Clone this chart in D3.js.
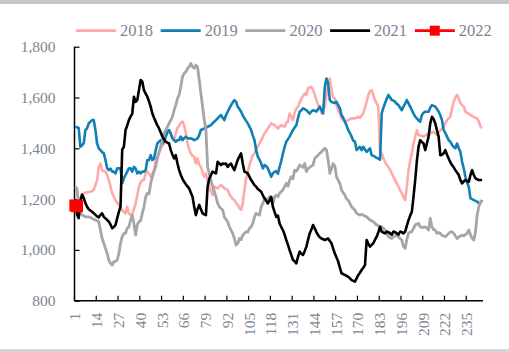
<!DOCTYPE html>
<html>
<head>
<meta charset="utf-8">
<script src="https://cdn.jsdelivr.net/npm/d3@7/dist/d3.min.js"></script>
<style>
    html, body { margin: 0; padding: 0; background: #fff; }
</style>
</head>
<body>
<div id="chart"></div>
<script>
(function () {
    'use strict';

    // categories 1..244 (trading days)
    var cats = d3.range(1, 245);

    var yTicks = [800, 1000, 1200, 1400, 1600, 1800];

    var seriesNames = ['2018', '2019', '2020', '2021', '2022'];

    var s2018 = [
        1185, 1190, 1200, 1205, 1215, 1222, 1226, 1226, 1228, 1229, 1232, 1236, 1255,
        1275, 1327, 1340, 1314, 1310, 1308, 1295, 1275, 1249, 1223, 1210, 1196, 1185,
        1177, 1165, 1157, 1150, 1144, 1170, 1144, 1137, 1140, 1160, 1183, 1216, 1249,
        1265, 1275, 1275, 1301, 1308, 1300, 1288, 1300, 1314, 1354, 1370, 1380, 1400,
        1410, 1419, 1446, 1460, 1465, 1455, 1440, 1432, 1459, 1480, 1490, 1500, 1505,
        1490, 1459, 1419, 1395, 1380, 1370, 1367, 1340, 1360, 1335, 1327, 1305, 1288,
        1300, 1270, 1249, 1230, 1216, 1249, 1245, 1242, 1250, 1255, 1250, 1242, 1240,
        1236, 1220, 1209, 1200, 1196, 1185, 1177, 1165, 1157, 1183, 1236, 1280, 1308,
        1334, 1355, 1373, 1380, 1395, 1406, 1420, 1432, 1445, 1459, 1468, 1478, 1488,
        1498, 1495, 1491, 1485, 1478, 1485, 1491, 1488, 1485, 1500, 1505, 1537, 1525,
        1511, 1540, 1557, 1564, 1580, 1596, 1605, 1616, 1610, 1636, 1640, 1642, 1630,
        1610, 1590, 1570, 1564, 1537, 1550, 1564, 1610, 1655, 1675, 1629, 1600, 1596,
        1570, 1550, 1537, 1518, 1512, 1505, 1508, 1511, 1515, 1518, 1518, 1518, 1520,
        1524, 1520, 1530, 1537, 1560, 1583, 1610, 1625, 1629, 1610, 1590, 1577, 1564,
        1390, 1380, 1360, 1347, 1335, 1327, 1315, 1301, 1288, 1275, 1262, 1249, 1235,
        1223, 1209, 1196, 1249, 1314, 1350, 1380, 1419, 1446, 1472, 1452, 1450, 1448,
        1446, 1450, 1455, 1457, 1459, 1462, 1465, 1458, 1452, 1462, 1472, 1478, 1485,
        1498, 1511, 1518, 1524, 1557, 1583, 1600, 1610, 1596, 1577, 1570, 1564, 1544,
        1540, 1537, 1531, 1528, 1524, 1520, 1518, 1505, 1485, 1480
    ];

    var s2019 = [
        1485, 1483, 1480, 1406, 1412, 1419, 1472, 1478, 1498, 1505, 1511, 1511, 1472,
        1419, 1400, 1393, 1385, 1380, 1354, 1321, 1314, 1320, 1308, 1308, 1301, 1321,
        1321, 1321, 1262, 1282, 1295, 1308, 1321, 1321, 1308, 1327, 1321, 1301, 1308,
        1301, 1308, 1308, 1314, 1354, 1354, 1373, 1354, 1360, 1393, 1419, 1426, 1432,
        1419, 1426, 1446, 1465, 1472, 1459, 1439, 1432, 1426, 1432, 1432, 1446, 1432,
        1440, 1446, 1440, 1439, 1439, 1437, 1432, 1435, 1439, 1452, 1472, 1475, 1478,
        1480, 1485, 1488, 1491, 1498, 1505, 1511, 1518, 1525, 1531, 1520, 1511, 1531,
        1544, 1557, 1570, 1580, 1590, 1583, 1564, 1555, 1544, 1530, 1518, 1508, 1498,
        1485, 1472, 1450, 1432, 1393, 1367, 1355, 1341, 1321, 1334, 1330, 1321, 1305,
        1288, 1301, 1308, 1310, 1300, 1327, 1350, 1380, 1405, 1426, 1436, 1446, 1460,
        1472, 1482, 1491, 1520, 1544, 1550, 1557, 1554, 1550, 1543, 1537, 1545, 1550,
        1548, 1545, 1555, 1564, 1550, 1537, 1642, 1675, 1655, 1590, 1583, 1580, 1578,
        1583, 1570, 1557, 1531, 1520, 1505, 1490, 1472, 1460, 1446, 1430, 1426, 1393,
        1400, 1406, 1393, 1406, 1395, 1386, 1393, 1400, 1373, 1370, 1367, 1362, 1360,
        1355, 1537, 1560, 1577, 1595, 1610, 1600, 1590, 1588, 1583, 1575, 1570, 1560,
        1550, 1565, 1575, 1590, 1577, 1564, 1550, 1537, 1525, 1518, 1510, 1505, 1531,
        1540, 1544, 1544, 1544, 1560, 1570, 1567, 1564, 1555, 1544, 1530, 1511, 1472,
        1460, 1446, 1432, 1425, 1413, 1405, 1400, 1419, 1400, 1386, 1347, 1321, 1288,
        1265, 1249, 1203, 1200, 1196, 1193, 1190, 1183, 1185, 1196
    ];

    var s2020 = [
        1249, 1240, 1170, 1145, 1137, 1135, 1130, 1130, 1130, 1128, 1124, 1120, 1118,
        1115, 1111, 1078, 1045, 1026, 1006, 986, 960, 947, 940, 954, 954, 960,
        986, 1026, 1052, 1065, 1065, 1085, 1091, 1118, 1137, 1104, 1058, 1100, 1111,
        1115, 1144, 1170, 1209, 1223, 1220, 1262, 1288, 1308, 1327, 1360, 1386, 1406,
        1432, 1459, 1472, 1485, 1498, 1511, 1524, 1550, 1570, 1596, 1610, 1642, 1682,
        1695, 1701, 1714, 1721, 1734, 1721, 1715, 1727, 1720, 1669, 1616, 1564, 1511,
        1472, 1327, 1301, 1275, 1249, 1230, 1209, 1183, 1170, 1163, 1157, 1130, 1120,
        1111, 1091, 1078, 1065, 1045, 1019, 1025, 1045, 1040, 1058, 1065, 1072, 1070,
        1085, 1091, 1104, 1130, 1144, 1140, 1137, 1170, 1183, 1203, 1200, 1196, 1209,
        1195, 1183, 1209, 1215, 1209, 1223, 1230, 1236, 1250, 1262, 1250, 1275, 1288,
        1280, 1314, 1310, 1320, 1334, 1330, 1325, 1340, 1308, 1320, 1325, 1330, 1334,
        1360, 1367, 1373, 1380, 1386, 1393, 1400, 1393, 1354, 1301, 1320, 1340, 1330,
        1288, 1275, 1262, 1236, 1225, 1216, 1200, 1196, 1183, 1170, 1163, 1157, 1144,
        1140, 1137, 1140, 1137, 1133, 1130, 1124, 1118, 1115, 1111, 1105, 1098, 1095,
        1091, 1091, 1085, 1078, 1065, 1052, 1048, 1045, 1052, 1055, 1058, 1050, 1045,
        1039, 1013, 1006, 1040, 1065, 1070, 1072, 1085, 1098, 1102, 1104, 1091, 1088,
        1090, 1091, 1085, 1078, 1124, 1091, 1080, 1078, 1065, 1068, 1065, 1058, 1055,
        1052, 1058, 1065, 1070, 1072, 1065, 1055, 1045, 1050, 1055, 1058, 1055, 1060,
        1065, 1078, 1060, 1045, 1039, 1070, 1137, 1170, 1190, 1195
    ];

    var s2021 = [
        1200, 1140, 1125, 1190, 1218, 1205, 1185, 1170, 1160, 1155, 1150, 1144, 1138,
        1132, 1128, 1138, 1144, 1130, 1124, 1118, 1111, 1100, 1085, 1090, 1098, 1125,
        1150, 1170, 1395, 1406, 1472, 1490, 1511, 1525, 1537, 1603, 1583, 1590, 1629,
        1669, 1662, 1629, 1615, 1603, 1585, 1564, 1537, 1520, 1505, 1490, 1478, 1462,
        1446, 1435, 1426, 1422, 1419, 1393, 1375, 1360, 1373, 1340, 1314, 1295, 1280,
        1268, 1258, 1250, 1242, 1225, 1209, 1170, 1137, 1160, 1177, 1160, 1144, 1140,
        1137, 1249, 1280, 1295, 1308, 1305, 1301, 1347, 1340, 1334, 1340, 1338, 1340,
        1327, 1335, 1340, 1325, 1314, 1335, 1354, 1368, 1380, 1340, 1308, 1305, 1301,
        1288, 1275, 1265, 1255, 1249, 1240, 1235, 1229, 1215, 1203, 1193, 1183, 1195,
        1209, 1170, 1150, 1130, 1135, 1104, 1090, 1078, 1060, 1039, 1020, 999, 980,
        960, 955, 947, 973, 993, 985, 980, 995, 1013, 1040, 1065, 1080, 1098,
        1085, 1070, 1058, 1050, 1045, 1042, 1039, 1042, 1045, 1035, 1026, 1005, 986,
        970, 954, 930, 908, 905, 901, 898, 894, 888, 881, 878, 875, 888,
        901, 910, 921, 930, 940, 1039, 1025, 1013, 1020, 1026, 1040, 1052, 1070,
        1091, 1072, 1068, 1065, 1072, 1070, 1065, 1060, 1072, 1070, 1065, 1060, 1072,
        1070, 1065, 1072, 1095, 1117, 1135, 1150, 1210, 1275, 1350, 1406, 1432, 1425,
        1419, 1393, 1420, 1446, 1498, 1524, 1515, 1498, 1470, 1446, 1373, 1375, 1380,
        1393, 1375, 1360, 1345, 1334, 1325, 1314, 1305, 1295, 1275, 1262, 1270, 1275,
        1270, 1268, 1295, 1314, 1295, 1282, 1278, 1275, 1275, 1275
    ];

    // 2022 only has the first two days
    var s2022 = [1175, 1172];

    var colors = ['#ffa9a9', '#0f80b4', '#a6a6a6', '#000000', '#ff0000'];

    var width = 509;
    var height = 352;
    var left = 74.5, right = 483;
    var top = 46.7, bottom = 300.7;
    var font = "'Liberation Serif', 'DejaVu Serif', 'Times New Roman', serif";

    var svg = d3.select('#chart').append('svg')
        .attr('width', width)
        .attr('height', height);

    // frame lines of the original screenshot
    svg.append('rect')
        .attr('x', 0).attr('y', 0)
        .attr('width', width).attr('height', 4)
        .attr('fill', '#c6c6c6');
    svg.append('rect')
        .attr('x', 0).attr('y', 349)
        .attr('width', width).attr('height', 3)
        .attr('fill', '#d4d4d4');

    var x = d3.scaleBand()
        .domain(cats)
        .range([left, right])
        .paddingInner(0)
        .paddingOuter(0);
    var bw = x.bandwidth();

    var y = d3.scaleLinear()
        .domain([800, 1800])
        .range([bottom, top]);

    var labelColor = '#7c8593';

    //y axis
    var yAxis = svg.append('g')
        .attr('transform', 'translate(' + left + ',0)')
        .call(d3.axisLeft(y).tickValues(yTicks).tickSize(0).tickPadding(19)
            .tickFormat(d3.format(',')));
    yAxis.attr('font-family', null).attr('font-size', null);
    yAxis.select('.domain').remove();
    yAxis.selectAll('text')
        .attr('fill', labelColor)
        .style('font-family', font)
        .style('font-size', '15.5px');
    yAxis.selectAll('.tick').append('line')
        .attr('x1', 0).attr('x2', 5)
        .attr('stroke', '#000').attr('stroke-width', 1.2);

    //x axis
    var xTickValues = cats.filter(function (d, i) { return i % 13 === 0; });
    var xAxis = svg.append('g')
        .attr('transform', 'translate(0,' + bottom + ')')
        .call(d3.axisBottom(x).tickValues(xTickValues).tickSize(0).tickPadding(0));
    xAxis.attr('font-family', null).attr('font-size', null);
    xAxis.select('.domain').remove();
    xAxis.selectAll('.tick text')
        .attr('fill', labelColor)
        .style('font-family', font)
        .style('font-size', '15.5px')
        .attr('text-anchor', 'end')
        .attr('dy', '0.33em')
        .attr('transform', 'translate(0,12) rotate(-90)')
        .attr('x', 0).attr('y', 0);
    xAxis.selectAll('.tick').append('line')
        .attr('x1', -bw / 2).attr('x2', -bw / 2)
        .attr('y1', 0).attr('y2', -5)
        .attr('stroke', '#000').attr('stroke-width', 1.2);

    // axis lines
    svg.append('line')
        .attr('x1', left).attr('x2', left)
        .attr('y1', top).attr('y2', bottom)
        .attr('stroke', '#000').attr('stroke-width', 1.5);
    svg.append('line')
        .attr('x1', left).attr('x2', right)
        .attr('y1', bottom).attr('y2', bottom)
        .attr('stroke', '#000').attr('stroke-width', 1.5);

    var line = d3.line()
        .defined(function (d) { return d != null; })
        .x(function (d, i) { return x(cats[i]) + bw / 2; })
        .y(function (d) { return y(d); });

    var allSeries = [s2018, s2019, s2020, s2021, s2022];
    var widths = [2.6, 2.6, 2.8, 2.6, 2.6];

    allSeries.forEach(function (s, k) {
        svg.append('path')
            .datum(s)
            .attr('fill', 'none')
            .attr('stroke', colors[k])
            .attr('stroke-width', widths[k])
            .attr('stroke-linejoin', 'round')
            .attr('d', line);
    });

    // 2022 markers
    svg.selectAll('.m2022')
        .data(s2022).enter()
        .append('rect')
        .attr('class', 'm2022')
        .attr('x', function (d, i) { return x(cats[i]) + bw / 2 - 6; })
        .attr('y', function (d) { return y(d) - 6; })
        .attr('width', 12).attr('height', 12)
        .attr('fill', colors[4]);

    //legend
    var legend = svg.selectAll('.legend')
        .data(seriesNames).enter()
        .append('g')
        .attr('class', 'legend')
        .attr('transform', function (d, i) {
            return 'translate(' + (76 + i * 84.7) + ',30.7)';
        });
    legend.append('line')
        .attr('x1', 0).attr('x2', 40)
        .attr('stroke', function (d, i) { return colors[i]; })
        .attr('stroke-width', 2.8);
    legend.filter(function (d) { return d === '2022'; })
        .append('rect')
        .attr('x', 15).attr('y', -5)
        .attr('width', 10).attr('height', 10)
        .attr('fill', colors[4]);
    legend.append('text')
        .attr('x', 44)
        .attr('dy', '0.35em')
        .attr('fill', labelColor)
        .style('font-family', font)
        .style('font-size', '16.5px')
        .text(function (d) { return d; });
})();
</script>
</body>
</html>
